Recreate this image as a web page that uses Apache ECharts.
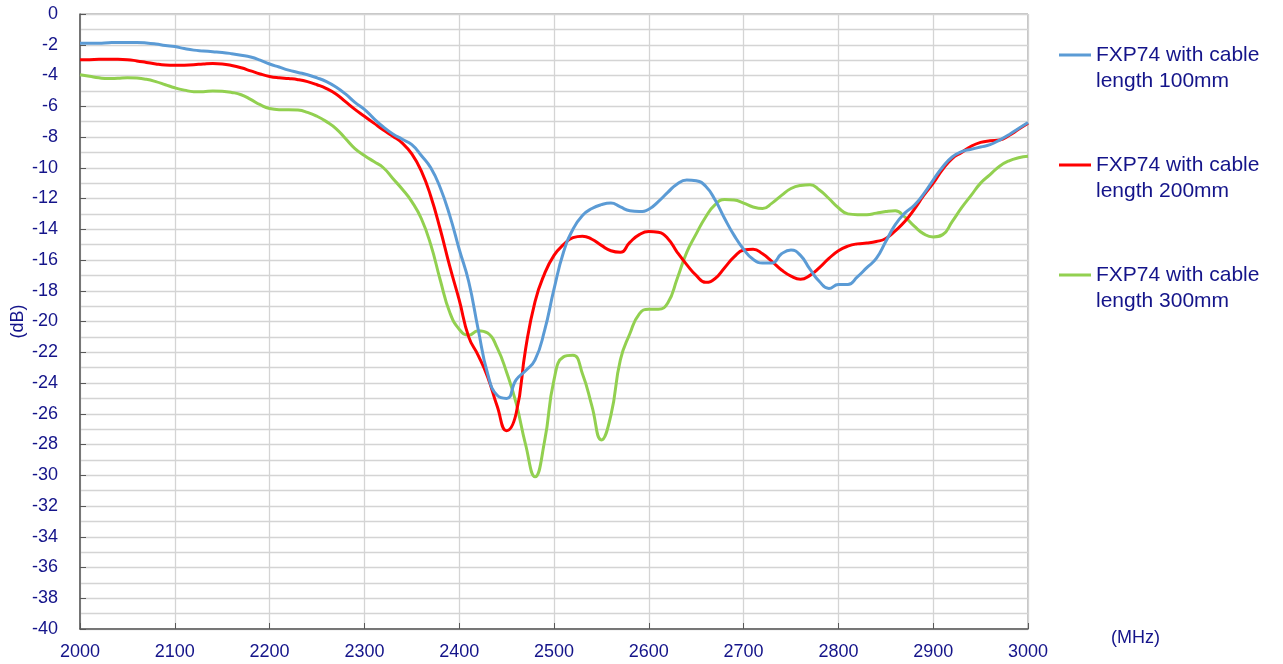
<!DOCTYPE html>
<html>
<head>
<meta charset="utf-8">
<script src="https://cdn.jsdelivr.net/npm/echarts@6/dist/echarts.min.js"></script>
<style>
html,body{margin:0;padding:0;background:#fff;}
#chart{width:1283px;height:664px;}
</style>
</head>
<body>
<div id="chart"></div>
<script>
var freqs = [2000,2010,2020,2030,2040,2050,2060,2070,2080,2090,
2100,2110,2120,2130,2140,2150,2160,2170,2180,2190,
2200,2210,2220,2230,2240,2250,2260,2270,2280,2290,
2300,2310,2320,2330,2340,2350,2360,2370,2380,2390,
2400,2410,2420,2430,2440,2450,2460,2470,2480,2490,
2500,2510,2520,2530,2540,2550,2560,2570,2580,2590,
2600,2610,2620,2630,2640,2650,2660,2670,2680,2690,
2700,2710,2720,2730,2740,2750,2760,2770,2780,2790,
2800,2810,2820,2830,2840,2850,2860,2870,2880,2890,
2900,2910,2920,2930,2940,2950,2960,2970,2980,2990,3000];

var seriesNames = ['FXP74 with cable length 100mm','FXP74 with cable length 200mm','FXP74 with cable length 300mm'];

var cable100 = [-1.9,-1.9,-1.9,-1.87,-1.85,-1.85,-1.85,-1.88,-1.95,-2.05,
-2.12,-2.25,-2.35,-2.4,-2.45,-2.5,-2.58,-2.68,-2.8,-3.0,
-3.25,-3.45,-3.65,-3.8,-3.95,-4.15,-4.4,-4.75,-5.2,-5.75,
-6.2,-6.8,-7.35,-7.8,-8.15,-8.5,-9.2,-10.0,-11.3,-13.1,
-15.3,-17.4,-20.5,-23.4,-24.8,-25.0,-23.8,-23.2,-22.5,-20.6,
-17.9,-15.5,-14.0,-13.1,-12.65,-12.4,-12.3,-12.55,-12.8,-12.85,
-12.7,-12.2,-11.6,-11.05,-10.8,-10.85,-11.2,-12.1,-13.3,-14.4,
-15.3,-15.95,-16.2,-16.2,-15.6,-15.35,-15.7,-16.6,-17.4,-17.85,
-17.6,-17.6,-17.1,-16.5,-15.9,-14.8,-13.7,-12.95,-12.45,-11.7,
-10.8,-9.95,-9.3,-8.95,-8.8,-8.65,-8.5,-8.2,-7.85,-7.45,-7.05];

var cable200 = [-2.97,-2.97,-2.95,-2.95,-2.95,-2.97,-3.05,-3.15,-3.25,-3.32,
-3.34,-3.33,-3.3,-3.25,-3.22,-3.25,-3.35,-3.5,-3.7,-3.9,
-4.06,-4.15,-4.2,-4.27,-4.4,-4.6,-4.85,-5.2,-5.7,-6.2,
-6.65,-7.1,-7.55,-7.95,-8.4,-9.1,-10.2,-11.85,-14.0,-16.4,
-18.6,-21.0,-22.2,-23.6,-25.5,-27.1,-26.0,-21.8,-18.7,-16.9,
-15.7,-15.0,-14.55,-14.45,-14.65,-15.05,-15.4,-15.5,-14.85,-14.35,
-14.15,-14.2,-14.6,-15.5,-16.3,-17.0,-17.45,-17.2,-16.5,-15.8,
-15.35,-15.3,-15.6,-16.1,-16.65,-17.05,-17.25,-17.0,-16.5,-15.9,
-15.4,-15.1,-14.95,-14.9,-14.8,-14.6,-14.1,-13.5,-12.7,-11.8,
-11.0,-10.1,-9.4,-9.0,-8.6,-8.35,-8.25,-8.2,-7.9,-7.5,-7.1];

var cable300 = [-3.95,-4.05,-4.15,-4.2,-4.18,-4.15,-4.17,-4.25,-4.4,-4.6,
-4.8,-4.95,-5.05,-5.05,-5.0,-5.02,-5.1,-5.25,-5.55,-5.9,
-6.15,-6.22,-6.22,-6.25,-6.4,-6.65,-7.0,-7.45,-8.1,-8.75,
-9.2,-9.6,-10.0,-10.7,-11.4,-12.2,-13.3,-15.0,-17.3,-19.4,
-20.5,-20.9,-20.6,-20.75,-21.7,-23.3,-25.3,-28.0,-30.1,-27.8,
-23.8,-22.3,-22.2,-23.4,-25.5,-27.7,-26.1,-22.5,-20.8,-19.5,
-19.2,-19.2,-18.8,-17.2,-15.5,-14.3,-13.2,-12.4,-12.07,-12.1,
-12.3,-12.55,-12.65,-12.3,-11.8,-11.35,-11.15,-11.1,-11.45,-12.0,
-12.6,-13.0,-13.05,-13.05,-12.95,-12.85,-12.8,-13.2,-13.8,-14.3,
-14.5,-14.35,-13.5,-12.6,-11.8,-11.0,-10.45,-9.9,-9.55,-9.35,-9.25];

var lineColors = ['#5B9BD5','#FF0000','#92D050'];
var textColor = '#14148A';
var fontFam = '"Liberation Sans", Arial, sans-serif';

function pairs(vals){ return freqs.map(function(f,i){ return [f, vals[i]]; }); }
var allVals = [cable100, cable200, cable300];

var chart = echarts.init(document.getElementById('chart'), null, {renderer:'canvas'});
chart.setOption({
  animation:false,
  backgroundColor:'#fff',
  textStyle:{fontFamily:fontFam},
  grid:{left:80, right:255, top:14, bottom:35, outerBoundsMode:'none', containLabel:false,
        show:true, borderColor:'#8c8c8c', borderWidth:1, backgroundColor:'transparent'},
  legend:{
    orient:'vertical', left:1059, top:42, padding:0,
    itemWidth:32, itemHeight:29, itemGap:58, itemTextGap:3,
    icon:'path://M0,0L32,0L32,3L0,3ZM0,29L32,29Z',
    symbolKeepAspect:true,
    itemStyle:{borderWidth:0},
    textStyle:{color:textColor, fontSize:21, lineHeight:26, fontFamily:fontFam},
    formatter:function(n){ return n.replace(' length', '\nlength'); },
    data:seriesNames
  },
  xAxis:{
    type:'value', min:2000, max:3000, interval:100,
    name:'(MHz)', nameLocation:'end', nameGap:83, nameMoveOverlap:false,
    nameTextStyle:{color:textColor, fontSize:18, fontFamily:fontFam, verticalAlign:'top', padding:[0,0,0,0]},
    axisLine:{show:true, onZero:false, lineStyle:{color:'#595959', width:1.5}},
    axisTick:{show:true, inside:true, length:6, lineStyle:{color:'#595959'}},
    axisLabel:{color:textColor, fontSize:18, margin:14, fontFamily:fontFam, formatter:function(v){return String(v);}},
    splitLine:{show:true, lineStyle:{color:'#d4d4d4', width:1.3}}
  },
  yAxis:{
    type:'value', min:-40, max:0, interval:2,
    name:'(dB)', nameLocation:'middle', nameGap:53, nameRotate:90, nameMoveOverlap:false,
    nameTextStyle:{color:textColor, fontSize:18, fontFamily:fontFam},
    axisLine:{show:true, onZero:false, lineStyle:{color:'#595959', width:1.5}},
    axisTick:{show:true, inside:true, length:6, lineStyle:{color:'#595959'}},
    axisLabel:{color:textColor, fontSize:18, margin:22, fontFamily:fontFam, formatter:function(v){return String(v);}},
    splitLine:{show:true, lineStyle:{color:'#d4d4d4', width:1.3}},
    minorTick:{show:false, splitNumber:2},
    minorSplitLine:{show:true, lineStyle:{color:'#d4d4d4', width:1.3}}
  },
  series: seriesNames.map(function(n,i){
    return {
      name:n, type:'line', data:pairs(allVals[i]),
      smooth:0.5, symbol:'none', showSymbol:false,
      lineStyle:{color:lineColors[i], width:3},
      itemStyle:{color:lineColors[i]},
      z: 3 + (2 - i)
    };
  })
});
</script>
</body>
</html>
